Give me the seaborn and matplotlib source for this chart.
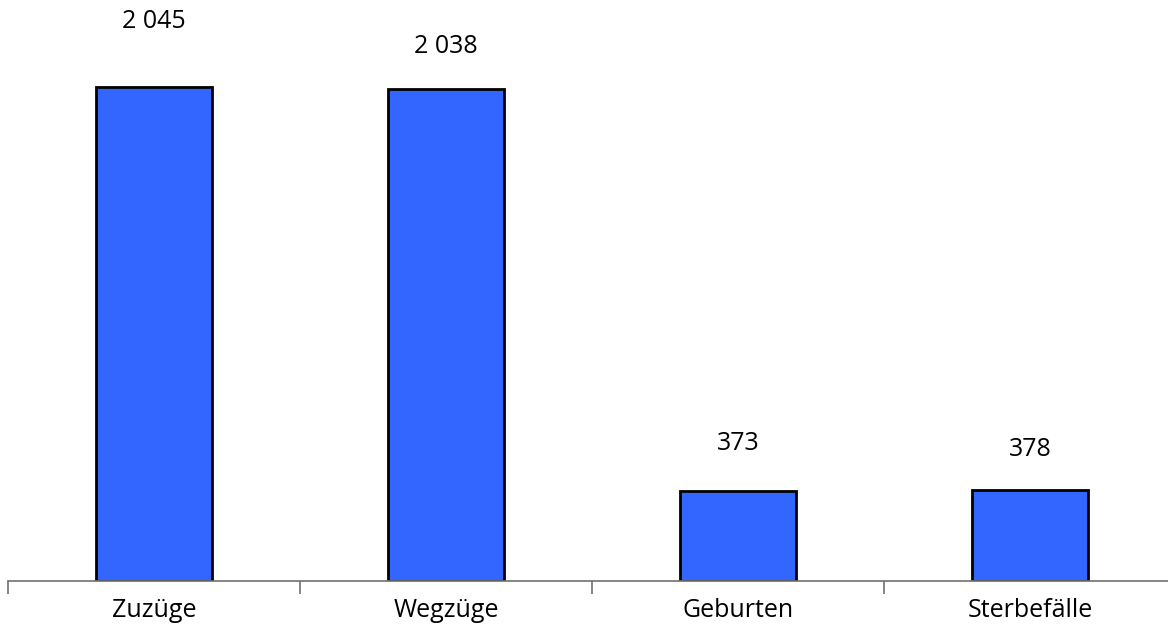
import matplotlib
matplotlib.use("Agg")
import matplotlib.pyplot as plt
import seaborn as sns
import pandas as pd

# data
kategorien = ["Zuzüge", "Wegzüge", "Geburten", "Sterbefälle"]
werte = [2045, 2038, 373, 378]
beschriftung = ["2 045", "2 038", "373", "378"]
label_abstand = [65, 42, 47, 40]  # pixel above bar top

df = pd.DataFrame({"kategorie": kategorien, "wert": werte})

sns.set_style("white")
plt.rcParams['font.family'] = ['Open Sans', 'DejaVu Sans']

fig = plt.figure(figsize=(11.68, 6.34), dpi=100)
ax = fig.add_axes([8 / 1168, 53 / 634, 1168 / 1168, 581 / 634])

sns.barplot(data=df, x="kategorie", y="wert", color="#3366FF", width=0.4,
            edgecolor="black", linewidth=2, saturation=1, ax=ax)

ax.set_xlim(-0.5, 3.5)
ax.set_ylim(0, 2405)

for i, (w, t, d) in enumerate(zip(werte, beschriftung, label_abstand)):
    ax.annotate(t, xy=(i, w), xytext=(0, d), textcoords="offset pixels",
                ha="center", va="center", fontsize=18, color="black")

for s in ["top", "right", "left"]:
    ax.spines[s].set_visible(False)
ax.spines["bottom"].set_color("#707070")
ax.spines["bottom"].set_linewidth(1.2)

ax.set_yticks([])
ax.set_xticks([-0.5, 0.5, 1.5, 2.5, 3.5])
ax.set_xticklabels([])
ax.set_xticks([0, 1, 2, 3], minor=True)
ax.set_xticklabels(kategorien, minor=True, fontsize=18, color="black")
ax.tick_params(axis="x", which="major", length=9, width=1.2, color="#707070",
               direction="out", bottom=True)
ax.tick_params(axis="x", which="minor", length=0, pad=12)
ax.set_xlabel("")
ax.set_ylabel("")

fig.savefig("out.png", dpi=100)
